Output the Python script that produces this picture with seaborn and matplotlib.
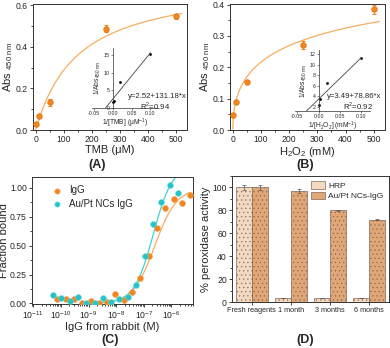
import numpy as np
import pandas as pd
import seaborn as sns
import matplotlib
matplotlib.use('Agg')
import matplotlib.pyplot as plt
from matplotlib.ticker import MultipleLocator, FixedLocator, LogLocator, NullFormatter, FormatStrFormatter

# ---- data ----
# (A) TMB kinetics
tmb_conc = [0, 10, 50, 250, 500]
tmb_abs = [0.030, 0.065, 0.133, 0.487, 0.545]
tmb_err = [0.006, 0.006, 0.018, 0.016, 0.012]
tmb_vmax, tmb_km = 0.72, 150          # fitted Michaelis-Menten curve
tmb_inv_conc = [0.002, 0.004, 0.02, 0.1]
tmb_inv_abs = [1.8, 2.1, 7.4, 15.2]
tmb_fit = (2.52, 131.18)

# (B) H2O2 kinetics
h2o2_conc = [0, 10, 50, 250, 500]
h2o2_abs = [0.047, 0.090, 0.153, 0.272, 0.385]
h2o2_err = [0.003, 0.004, 0.004, 0.012, 0.014]
h2o2_vmax, h2o2_k, h2o2_n = 0.65, 400, 0.5   # fitted curve
h2o2_inv_conc = [0.002, 0.004, 0.02, 0.1]
h2o2_inv_abs = [2.45, 3.6, 6.5, 11.2]
h2o2_fit = (3.49, 78.86)

# (C) binding curves
igg_conc = [7.5e-11, 1.5e-10, 2.9e-10, 5.9e-10, 1.2e-9, 2.3e-9, 4.7e-9, 9.4e-9,
            1.9e-8, 3.8e-8, 7.5e-8, 1.5e-7, 3.0e-7, 6.0e-7, 1.2e-6, 2.4e-6, 4.8e-6]
igg_frac = [0.035, 0.037, 0.040, 0.0, 0.025, 0.005, 0.012, 0.084,
            0.030, 0.098, 0.216, 0.41, 0.654, 0.827, 0.907, 0.867, 0.942]
aupt_conc = [5.2e-11, 1.0e-10, 2.1e-10, 4.2e-10, 8.4e-10, 1.7e-9, 3.4e-9, 6.7e-9,
             1.3e-8, 2.7e-8, 5.4e-8, 1.1e-7, 2.1e-7, 4.3e-7, 8.6e-7, 1.7e-6]
aupt_frac = [0.069, 0.049, 0.017, 0.055, 0.0, 0.005, 0.043, 0.012,
             0.035, 0.052, 0.158, 0.41, 0.69, 0.88, 1.03, 0.957]
igg_bmax, igg_kd, igg_n = 1.0, 2.5e-7, 1.1
aupt_bmax, aupt_kd, aupt_n = 1.2, 2.2e-7, 1.25
conc_ticks = [1e-11, 1e-10, 1e-9, 1e-8, 1e-7, 1e-6]

# (D) storage stability
periods = ['Fresh reagents', '1 month', '3 months', '6 months']
hrp_act = [100, 3.5, 3.5, 3.5]
hrp_err = [2.5, 0.4, 0.4, 0.4]
aupt_act = [100, 97, 80, 72]
aupt_err = [2.0, 2.0, 0.5, 0.8]

# ---- style ----
sns.set_style('ticks')
plt.rcParams['font.family'] = ['Liberation Sans', 'DejaVu Sans']
plt.rcParams['mathtext.fontset'] = 'custom'
plt.rcParams['mathtext.rm'] = 'Liberation Sans'
plt.rcParams['axes.linewidth'] = 0.7
plt.rcParams['axes.edgecolor'] = '#333333'
plt.rcParams['xtick.major.size'] = 2.5
plt.rcParams['ytick.major.size'] = 2.5
plt.rcParams['xtick.minor.size'] = 1.5
plt.rcParams['ytick.minor.size'] = 1.5
plt.rcParams['xtick.major.width'] = 0.6
plt.rcParams['ytick.major.width'] = 0.6
plt.rcParams['hatch.linewidth'] = 0.35

orange = '#f0861c'
orange_line = '#f7ad5e'
cyan = '#27c3c6'
cyan_line = '#3fd3d3'
tick_fs = 6.2
label_fs = 8

W, H = 390, 348
fig = plt.figure(figsize=(W / 100, H / 100), dpi=100)


def box(l, t, r, b):
    return [l / W, 1 - b / H, (r - l) / W, (b - t) / H]


def kinetics_panel(rect, conc, absb, err, curve_x, curve_y, ylim, ystep, xlabel):
    ax = fig.add_axes(rect)
    ax.plot(curve_x, curve_y, color=orange_line, lw=0.9, zorder=1)
    ax.errorbar(conc, absb, yerr=err, fmt='none', ecolor=orange, elinewidth=0.8,
                capsize=1.5, capthick=0.8, zorder=2)
    sns.scatterplot(x=conc, y=absb, color=orange, s=16, edgecolor='#e07010',
                    linewidth=0.5, ax=ax, zorder=3)
    ax.set_xlim(-10, 540)
    ax.set_ylim(*ylim)
    ax.xaxis.set_major_locator(MultipleLocator(100))
    ax.xaxis.set_minor_locator(MultipleLocator(50))
    ax.yaxis.set_major_locator(MultipleLocator(ystep))
    ax.yaxis.set_minor_locator(MultipleLocator(ystep / 2))
    ax.tick_params(labelsize=tick_fs, pad=1.2)
    ax.set_xlabel(xlabel, fontsize=label_fs, labelpad=0.5)
    ax.set_ylabel(r'Abs $_{\mathregular{450\ nm}}$', fontsize=label_fs, labelpad=0.5)
    return ax


def lb_inset(rect, inv_conc, inv_abs, fit, ylim, ystep, xlabel, eq, r2, eq_xy, r2_xy):
    ax = fig.add_axes(rect)
    ax.patch.set_alpha(0)
    for s in ['top', 'right']:
        ax.spines[s].set_visible(False)
    ax.spines['left'].set_position(('data', 0))
    ax.spines['left'].set_linewidth(0.5)
    ax.spines['bottom'].set_linewidth(0.5)
    x0 = (ylim[0] - fit[0]) / fit[1]
    xs = np.array([x0, max(inv_conc)])
    ax.plot(xs, fit[0] + fit[1] * xs, color='#444444', lw=0.6)
    sns.scatterplot(x=inv_conc, y=inv_abs, color='black', s=4, linewidth=0, ax=ax)
    ax.set_xlim(-0.055, 0.12)
    ax.set_ylim(*ylim)
    ax.set_xticks([-0.05, 0.0, 0.05, 0.10])
    ax.xaxis.set_major_formatter(FormatStrFormatter('%.2f'))
    ax.yaxis.set_major_locator(MultipleLocator(ystep))
    ax.tick_params(labelsize=3.8, length=1.2, width=0.4, pad=0.8)
    ax.set_xlabel(xlabel, fontsize=4.8, labelpad=0.5)
    ax.set_ylabel(r'1/Abs$_{\mathregular{450\ nm}}$', fontsize=4.8, labelpad=0.5)
    fig.text(eq_xy[0] / W, 1 - eq_xy[1] / H, eq, fontsize=5.6, va='center', ha='left')
    fig.text(r2_xy[0] / W, 1 - r2_xy[1] / H, r2, fontsize=5.6, va='center', ha='left')
    return ax


# (A)
xa = np.linspace(0, 520, 200)
kinetics_panel(box(33, 4, 187, 130), tmb_conc, tmb_abs, tmb_err,
               xa, tmb_vmax * xa / (tmb_km + xa), (0, 0.605), 0.2, 'TMB (μM)')
lb_inset(box(92, 48, 158, 108), tmb_inv_conc, tmb_inv_abs, tmb_fit, (0, 17), 5,
         r'1/[TMB] (μM$^{\mathregular{-1}}$)',
         'y=2.52+131.18*x', r'R$^{\mathregular{2}}$=0.94', (128, 96), (140, 106))

# (B)
xb = np.linspace(0.01, 520, 400)
kinetics_panel(box(230, 4, 385, 130), h2o2_conc, h2o2_abs, h2o2_err,
               xb, h2o2_vmax * (xb / h2o2_k) ** h2o2_n / (1 + (xb / h2o2_k) ** h2o2_n),
               (0, 0.402), 0.1, r'H$_{\mathregular{2}}$O$_{\mathregular{2}}$ (mM)')
lb_inset(box(295, 50, 370, 111), h2o2_inv_conc, h2o2_inv_abs, h2o2_fit, (1.25, 12.8), 2,
         r'1/[H$_{\mathregular{2}}$O$_{\mathregular{2}}$] (mM$^{\mathregular{-1}}$)',
         'y=3.49+78.86*x', r'R$^{\mathregular{2}}$=0.92', (327, 97), (343, 106))

# (C)
axc = fig.add_axes(box(32, 177, 193, 304))
xc1 = np.logspace(-9.3, np.log10(4.8e-6), 200)
xc2 = np.logspace(-9.3, np.log10(1.5e-6), 200)
axc.plot(xc1, igg_bmax * xc1 ** igg_n / (igg_kd ** igg_n + xc1 ** igg_n), color=orange_line, lw=0.9)
axc.plot(xc2, aupt_bmax * xc2 ** aupt_n / (aupt_kd ** aupt_n + xc2 ** aupt_n), color=cyan_line, lw=0.9)
sns.scatterplot(x=igg_conc, y=igg_frac, color=orange, s=18, edgecolor='#f4a060',
                linewidth=0.4, ax=axc, label='IgG', zorder=3)
sns.scatterplot(x=aupt_conc, y=aupt_frac, color=cyan, s=18, edgecolor='#70dede',
                linewidth=0.4, ax=axc, label='Au/Pt NCs IgG', zorder=3)
axc.set_xscale('log')
axc.set_xlim(9.0e-12, 6e-6)
axc.set_ylim(-0.005, 1.095)
axc.xaxis.set_major_locator(FixedLocator(conc_ticks))
axc.xaxis.set_minor_locator(LogLocator(base=10, subs=np.arange(2, 10), numticks=12))
axc.xaxis.set_minor_formatter(NullFormatter())
axc.yaxis.set_major_locator(MultipleLocator(0.25))
axc.yaxis.set_minor_locator(MultipleLocator(0.125))
axc.yaxis.set_major_formatter(FormatStrFormatter('%.2f'))
axc.tick_params(labelsize=tick_fs, pad=1.2)
axc.set_xlabel('IgG from rabbit (M)', fontsize=label_fs, labelpad=0.5)
axc.set_ylabel('Fraction bound', fontsize=label_fs, labelpad=0.5)
axc.legend(loc='upper left', bbox_to_anchor=(0.06, 0.98), frameon=False, fontsize=7,
           handletextpad=0.2, borderaxespad=0.2, labelspacing=0.35, markerscale=0.9)

# (D)
axd = fig.add_axes(box(232, 176, 389, 302))
df_d = pd.DataFrame({
    'period': periods * 2,
    'activity': hrp_act + aupt_act,
    'err': hrp_err + aupt_err,
    'enzyme': ['HRP'] * 4 + ['Au/Pt NCs-IgG'] * 4,
})
sns.barplot(data=df_d, x='period', y='activity', hue='enzyme',
            palette=['#fcd8b8', '#f2a463'], width=0.82, edgecolor='#806858',
            linewidth=0.5, errorbar=None, ax=axd)
bars = [p for p in axd.patches if p.get_height() > 0]
dot_colors = ['#e8b894'] * 4 + ['#c9783a'] * 4
for p, dc in zip(bars, dot_colors):
    p.set_hatch('....')
    if hasattr(p, 'set_hatchcolor'):
        p.set_hatchcolor(dc)
for p, e in zip(bars, df_d['err']):
    axd.errorbar(p.get_x() + p.get_width() / 2, p.get_height(), yerr=e, fmt='none',
                 ecolor='#555555', elinewidth=0.5, capsize=1.5, capthick=0.5)
axd.set_xlim(-0.5, 3.5)
axd.set_ylim(0, 110)
axd.yaxis.set_major_locator(MultipleLocator(20))
axd.yaxis.set_minor_locator(MultipleLocator(10))
axd.tick_params(axis='y', labelsize=tick_fs, pad=1.2)
axd.tick_params(axis='x', labelsize=5.2, pad=1.2)
axd.set_xlabel('')
axd.set_ylabel('% peroxidase activity', fontsize=label_fs, labelpad=1)
axd.legend(loc='upper right', frameon=False, fontsize=6, handlelength=1.7,
           handleheight=1.0, handletextpad=0.4, borderaxespad=0.25, labelspacing=0.2)

# panel letters
for lx, ly, t in [(97, 165, '(A)'), (305, 165, '(B)'), (110, 340, '(C)'), (305, 340, '(D)')]:
    fig.text(lx / W, 1 - ly / H, t, fontsize=9, fontweight='bold', ha='center', va='center')

fig.savefig('out.png', dpi=100)
